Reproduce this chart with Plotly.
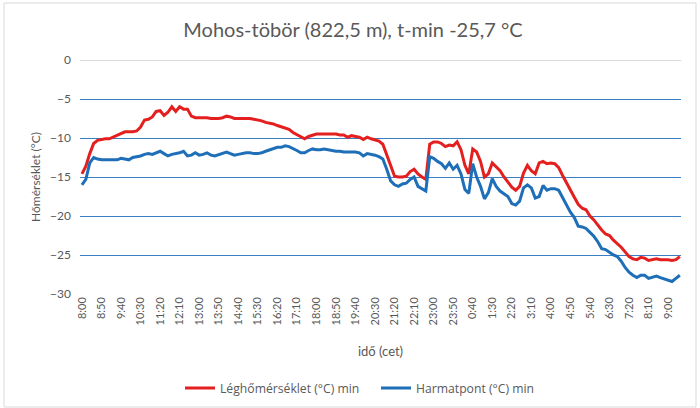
import plotly.graph_objects as go
import pandas as pd

TITLE = "Mohos-töbör (822,5 m), t-min -25,7 °C"
RED = "#e3201f"
BLUE = "#1f6fb8"
GRID_BLUE = "#3a7fc1"
TEXT = "#595959"

# 10-minute readings, 8:00 -> 9:30 next day
times = pd.date_range("2021-02-01 08:00", periods=154, freq="10min")

leg_min = [
    -14.6, -13.6, -12.0, -10.7, -10.3, -10.2, -10.1, -10.1, -9.9, -9.6,
    -9.4, -9.2, -9.2, -9.2, -9.1, -8.6, -7.7, -7.6, -7.3, -6.6,
    -6.5, -7.1, -6.7, -6.0, -6.6, -6.0, -6.3, -6.3, -7.2, -7.4,
    -7.4, -7.4, -7.4, -7.5, -7.5, -7.5, -7.4, -7.2, -7.3, -7.5,
    -7.5, -7.5, -7.5, -7.5, -7.6, -7.7, -7.8, -8.0, -8.1, -8.2,
    -8.4, -8.6, -8.7, -8.9, -9.3, -9.6, -9.8, -10.1, -9.8, -9.6,
    -9.5, -9.5, -9.5, -9.5, -9.5, -9.5, -9.6, -9.6, -9.9, -9.7,
    -9.8, -9.9, -10.2, -9.9, -10.1, -10.3, -10.4, -10.8, -12.2, -13.7,
    -14.9, -15.0, -15.0, -14.9, -14.3, -14.0, -14.6, -15.0, -15.3, -10.8,
    -10.5, -10.5, -10.7, -11.1, -10.9, -11.0, -10.5, -11.5, -13.5, -14.6,
    -11.4, -11.8, -13.0, -15.0, -14.6, -13.2, -13.7, -14.2, -15.0, -15.6,
    -16.3, -16.7, -16.2, -14.5, -13.5, -14.2, -14.6, -13.2, -13.0, -13.3,
    -13.2, -13.3, -13.8, -14.8, -15.8, -16.8, -17.6, -18.5, -19.0, -19.2,
    -20.0, -20.5, -21.2, -21.8, -22.3, -22.5, -23.1, -23.5, -24.0, -24.6,
    -25.2, -25.5, -25.6, -25.3, -25.4, -25.7, -25.6, -25.5, -25.6, -25.6,
    -25.6, -25.7, -25.6, -25.2,
]

harmat_min = [
    -16.0, -15.3, -13.2, -12.5, -12.7, -12.8, -12.8, -12.8, -12.8, -12.8,
    -12.6, -12.7, -12.8, -12.5, -12.4, -12.3, -12.1, -12.0, -12.1, -11.9,
    -11.7, -12.0, -12.3, -12.1, -12.0, -11.9, -11.7, -12.3, -12.2, -11.9,
    -12.2, -12.1, -11.9, -12.2, -12.3, -12.1, -12.0, -11.8, -12.0, -12.2,
    -12.1, -12.0, -11.9, -11.9, -12.0, -12.0, -11.9, -11.7, -11.5, -11.3,
    -11.2, -11.2, -11.0, -11.1, -11.3, -11.6, -11.9, -11.9, -11.6, -11.4,
    -11.5, -11.5, -11.4, -11.5, -11.6, -11.7, -11.7, -11.8, -11.8, -11.8,
    -11.8, -11.9, -12.3, -12.0, -12.1, -12.2, -12.4, -12.7, -14.0, -15.5,
    -16.0, -16.2, -15.9, -15.8, -15.3, -15.0, -16.2, -16.5, -16.8, -12.4,
    -12.6, -13.0, -13.3, -13.9, -13.2, -14.0, -13.5, -14.6, -16.6, -17.1,
    -13.3, -15.0, -16.2, -17.8, -17.0, -15.2, -16.2, -16.8, -17.1, -17.5,
    -18.4, -18.6, -18.1, -16.4, -16.0, -16.4, -17.7, -17.5, -16.1, -16.7,
    -16.5, -16.5, -16.7, -17.6, -18.5, -19.5, -20.2, -21.3, -21.4, -21.6,
    -22.1, -22.6, -23.3, -24.2, -24.3, -24.7, -25.0, -25.2, -25.8, -26.6,
    -27.2, -27.6, -27.9, -27.6, -27.6, -28.0, -27.8, -27.7, -27.9, -28.1,
    -28.2, -28.4, -28.0, -27.6,
]

fig = go.Figure()

fig.add_trace(
    go.Scatter(
        x=times,
        y=leg_min,
        mode="lines",
        name="Léghőmérséklet (°C) min",
        line=dict(color=RED, width=3),
    )
)
fig.add_trace(
    go.Scatter(
        x=times,
        y=harmat_min,
        mode="lines",
        name="Harmatpont (°C) min",
        line=dict(color=BLUE, width=3),
    )
)

# plot area is 80..681 x 60..294 px
L, R, T, B = 80, 681, 60, 294
W, H = 700, 408
pw, ph = R - L, B - T

fig.update_layout(
    width=W,
    height=H,
    margin=dict(l=L, r=W - R, t=T, b=H - B, autoexpand=False),
    plot_bgcolor="white",
    paper_bgcolor="white",
    font=dict(family="Lato, Open Sans, sans-serif", size=12, color=TEXT),
    title=dict(
        text=TITLE,
        x=353 / W,
        xanchor="center",
        y=1 - 30 / H,
        yanchor="middle",
        font=dict(size=20, color=TEXT),
    ),
    showlegend=True,
    legend=dict(
        orientation="h",
        x=(180 - L) / pw,
        xanchor="left",
        y=(B - 388) / ph,
        yanchor="middle",
        font=dict(family="Open Sans, sans-serif", size=12.2, color=TEXT),
        itemwidth=30,
        entrywidth=151,
    ),
    shapes=[
        dict(
            type="rect",
            xref="paper",
            yref="paper",
            x0=(4 - L) / pw,
            x1=(696 - L) / pw,
            y0=(B - 407) / ph,
            y1=(B - 3) / ph,
            line=dict(color="#d9d9d9", width=1),
        )
    ],
)

fig.update_xaxes(
    type="date",
    automargin=False,
    range=[times[0] - pd.Timedelta(minutes=5), times[-1] + pd.Timedelta(minutes=3)],
    tick0=times[0],
    dtick=50 * 60 * 1000,
    tickformat="%-H:%M",
    tickangle=-90,
    tickfont=dict(size=11, color=TEXT),
    showgrid=False,
    zeroline=False,
    showline=False,
    ticks="",
    title=dict(text="idő (cet)", font=dict(size=13, color=TEXT), standoff=22),
)

fig.update_yaxes(
    automargin=False,
    range=[-30, 0],
    dtick=5,
    showgrid=True,
    gridcolor=GRID_BLUE,
    gridwidth=1,
    zeroline=True,
    zerolinecolor="#d9d9d9",
    zerolinewidth=1,
    showline=False,
    ticks="",
    ticklabelstandoff=8,
    tickfont=dict(size=12, color=TEXT),
    title=dict(text="Hőmérséklet (°C)", font=dict(size=12, color=TEXT), standoff=6),
)

# drop the browser's default body margin so the figure sits at 0,0
fig.write_html(
    "out.html",
    config={"displayModeBar": False},
    post_script="document.body.style.margin='0';",
)
